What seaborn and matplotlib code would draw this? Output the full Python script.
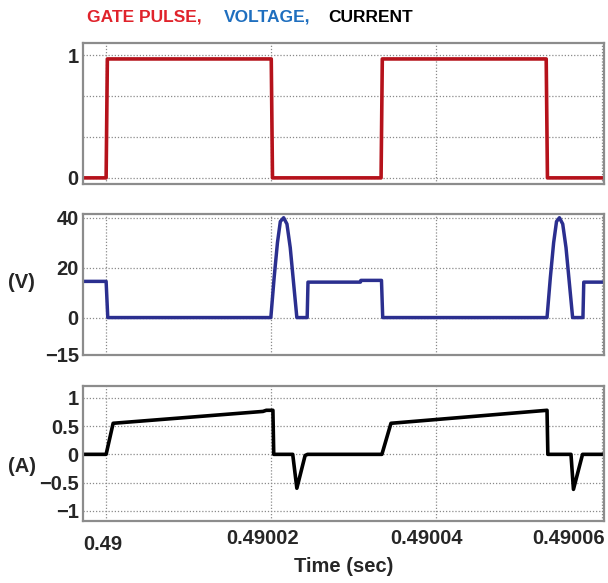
import numpy as np
import pandas as pd
import matplotlib
matplotlib.use("Agg")
import matplotlib.pyplot as plt
import matplotlib.transforms as mtransforms
import seaborn as sns

# ---- data (time offsets in microseconds after 0.49 s) ----
T0 = 0.49
gate_t_us = [-2.8, 0.0, 0.15, 20.0, 20.15, 33.3, 33.45, 53.3, 53.45, 60.4]
gate_val = [0, 0, 0.97, 0.97, 0, 0, 0.97, 0.97, 0, 0]

volt_t_us = [-2.8, 0.0, 0.2, 19.95, 20.35, 20.75, 21.1, 21.5, 21.9, 22.3, 22.7, 23.1,
             24.35, 24.45, 30.8, 30.85, 33.35, 33.5,
             53.4, 53.8, 54.2, 54.55, 54.9, 55.3, 55.7, 56.1, 56.5,
             57.75, 57.85, 60.4]
volt_val = [14.5, 14.5, 0, 0, 16, 30, 38.5, 40, 37.5, 28, 14, 0,
            0, 14.2, 14.2, 14.9, 14.9, 0,
            0, 16, 30, 38.5, 40, 37.5, 28, 14, 0,
            0, 14.2, 14.2]

curr_t_us = [-2.8, 0.0, 0.85, 19.0, 19.4, 20.2, 20.3, 22.6, 23.1, 24.1, 24.4,
             33.4, 34.5, 53.4, 53.5, 56.3, 56.6, 57.7, 60.4]
curr_val = [0, 0, 0.55, 0.76, 0.78, 0.78, 0, 0, -0.6, -0.02, 0,
            0, 0.55, 0.78, 0, 0, -0.62, 0, 0]

x_ticks = [0.49, 0.49002, 0.49004, 0.49006]
x_tick_labels = ["0.49", "0.49002", "0.49004", "0.49006"]
gate_ticks = [0, 1]
gate_grid = [0, 1 / 3, 2 / 3, 1]
volt_ticks = [-15, 0, 20, 40]
curr_ticks = [-1, -0.5, 0, 0.5, 1]
curr_tick_labels = ["\u22121", "\u22120.5", "0", "0.5", "1"]

sns.set_theme(style="white")
plt.rcParams["font.family"] = ["Liberation Sans", "DejaVu Sans"]
plt.rcParams["font.weight"] = "bold"

gate_df = pd.DataFrame({"t": [T0 + v * 1e-6 for v in gate_t_us], "y": gate_val})
volt_df = pd.DataFrame({"t": [T0 + v * 1e-6 for v in volt_t_us], "y": volt_val})
curr_df = pd.DataFrame({"t": [T0 + v * 1e-6 for v in curr_t_us], "y": curr_val})

W, H = 608, 583
fig = plt.figure(figsize=(W / 100, H / 100), dpi=100)


def box(top, bottom, left=83, right=604):
    return [left / W, 1 - bottom / H, (right - left) / W, (bottom - top) / H]


ax1 = fig.add_axes(box(43, 184))
ax2 = fig.add_axes(box(214, 355))
ax3 = fig.add_axes(box(386, 521))

xlim = (0.4899972, 0.4900603)
grid_kw = dict(color="#8a8a8a", linestyle=(0, (1, 1.5)), linewidth=0.9, zorder=0)

sns.lineplot(data=gate_df, x="t", y="y", ax=ax1, color="#b5121b", linewidth=2.6,
             sort=False, estimator=None)
sns.lineplot(data=volt_df, x="t", y="y", ax=ax2, color="#2b2f8f", linewidth=2.5,
             sort=False, estimator=None)
sns.lineplot(data=curr_df, x="t", y="y", ax=ax3, color="black", linewidth=2.6,
             sort=False, estimator=None)

ax1.set_ylim(-0.05, 1.1)
ax1.set_yticks(gate_ticks)
ax1.set_yticklabels(["0", "1"])
for g in gate_grid:
    ax1.axhline(g, **grid_kw)

ax2.set_ylim(-15, 41.5)
ax2.set_yticks(volt_ticks)
ax2.set_yticklabels(["\u221215", "0", "20", "40"])
for g in [0, 20, 40]:
    ax2.axhline(g, **grid_kw)

ax3.set_ylim(-1.18, 1.21)
ax3.set_yticks(curr_ticks)
ax3.set_yticklabels(curr_tick_labels)
for g in curr_ticks:
    ax3.axhline(g, **grid_kw)

TFS = 14.5
for ax in (ax1, ax2, ax3):
    ax.set_xlim(*xlim)
    ax.set_xticks(x_ticks)
    for xv in x_ticks:
        ax.axvline(xv, **grid_kw)
    for s in ax.spines.values():
        s.set_color("#8c8c8c")
        s.set_linewidth(1.6)
    ax.tick_params(axis="both", length=0, labelsize=TFS)
    ax.tick_params(axis="y", pad=3)
    ax.tick_params(axis="x", pad=6)
    for lab in ax.get_yticklabels():
        lab.set_fontweight("bold")
    ax.set_xlabel("")
    ax.set_ylabel("")

ax1.set_xticklabels([])
ax2.set_xticklabels([])
ax3.set_xticklabels(x_tick_labels, fontweight="bold", fontsize=TFS)
labs = ax3.get_xticklabels()
offsets = [(-3, -6), (-9, 0), (-10, 0), (0, 0)]
for lab, (dx, dy) in zip(labs, offsets):
    lab.set_transform(lab.get_transform() +
                      mtransforms.ScaledTranslation(dx / 100, dy / 100, fig.dpi_scale_trans))
labs[-1].set_horizontalalignment("right")
labs[-1].set_transform(labs[-1].get_transform() +
                       mtransforms.ScaledTranslation(3 / 100, 0, fig.dpi_scale_trans))

ax3.set_xlabel("Time (sec)", fontsize=TFS, fontweight="bold", labelpad=2)

fig.text(8 / W, 1 - 283 / H, "(V)", fontsize=14.5, fontweight="bold", va="center", ha="left")
fig.text(8 / W, 1 - 467 / H, "(A)", fontsize=14.5, fontweight="bold", va="center", ha="left")

fs = 12.5
y_t = 1 - 17 / H
fig.text(87 / W, y_t, "GATE PULSE,", color="#e0232b", fontsize=fs, fontweight="bold", va="center")
fig.text(224 / W, y_t, "VOLTAGE,", color="#1f6fbf", fontsize=fs, fontweight="bold", va="center")
fig.text(328 / W, y_t, "CURRENT", color="black", fontsize=fs, fontweight="bold", va="center")

fig.savefig("out.png", dpi=100)
